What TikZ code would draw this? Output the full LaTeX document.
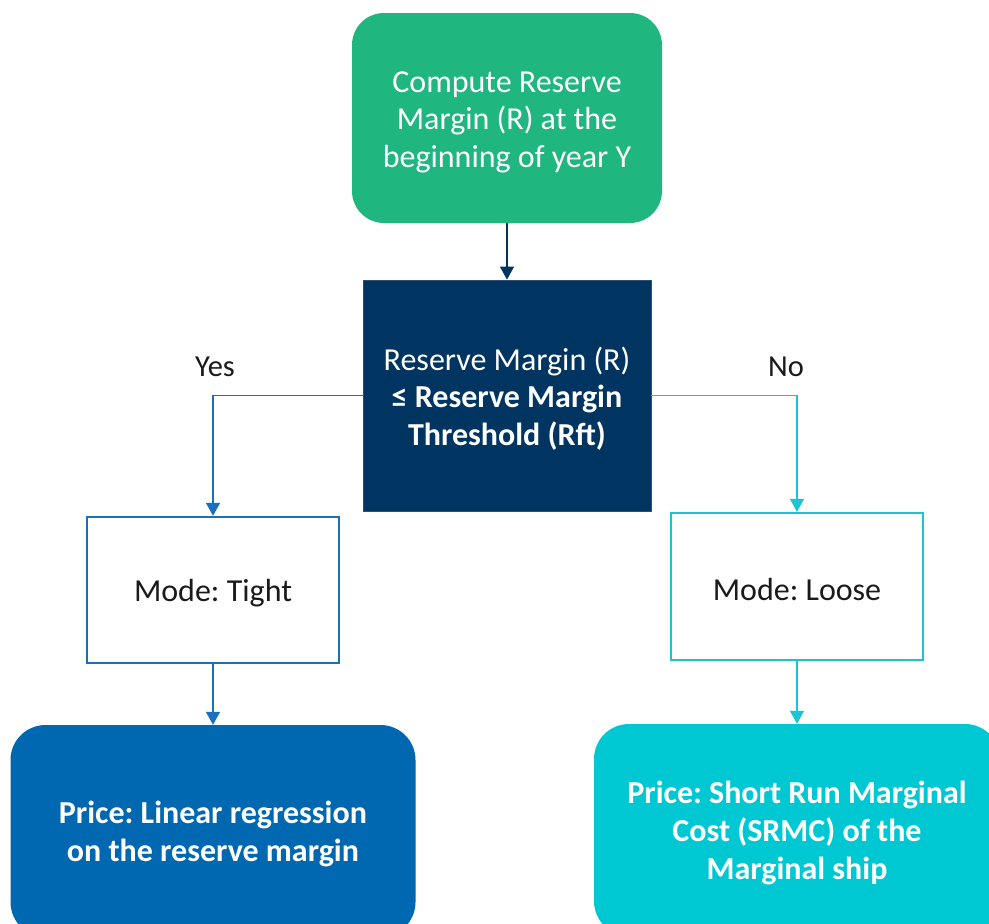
\documentclass[tikz,border=0pt]{standalone}
\usepackage{fontspec}
\setmainfont{Carlito}
\usetikzlibrary{arrows.meta}
\definecolor{cgreen}{HTML}{20B67F}
\definecolor{cnavy}{HTML}{003562}
\definecolor{cnavyedge}{HTML}{2E4F73}
\definecolor{cblue}{HTML}{0068B0}
\definecolor{cline}{HTML}{1A70BC}
\definecolor{ccyan}{HTML}{00C8D3}
\definecolor{ccyanline}{HTML}{1CC3D0}
\definecolor{ctext}{HTML}{1A1A1A}
\frenchspacing
\begin{document}
\begin{tikzpicture}[x=1pt,y=-1pt,
  txt/.style={font=\fontsize{32}{37.5}\selectfont, align=center, inner sep=0pt},
  btxt/.style={txt, text=white, font=\fontsize{32}{38.3}\selectfont\bfseries},
  roundbox/.style={rectangle, rounded corners=32pt, inner sep=0pt},
  modebox/.style={rectangle, draw, line width=2.4pt, fill=white, minimum width=252pt, inner sep=0pt},
  arr/.style={line width=1.3pt, -{Triangle[width=14pt,length=13pt]}},
  lbl/.style={font=\fontsize{30.5}{36}\selectfont, text=ctext, inner sep=0pt}
]
\useasboundingbox (0,0) rectangle (989,924);
\clip (0,0) rectangle (989,924);
\fill[white] (0,0) rectangle (989,924);

% boxes
\node[roundbox, fill=cgreen, minimum width=310pt, minimum height=210pt] (compute) at (507,118) {};
\node[rectangle, fill=cnavy, draw=cnavyedge, line width=0.8pt, inner sep=0pt,
  minimum width=288pt, minimum height=231pt] (dec) at (507,395.5) {};
\node[modebox, draw=cline, minimum height=146pt] (tight) at (213,590) {};
\node[modebox, draw=ccyanline, minimum height=147pt] (loose) at (797,586.5) {};
\node[roundbox, fill=cblue, rounded corners=35pt, minimum width=405pt, minimum height=212pt] (lin) at (213,831) {};
\node[roundbox, fill=ccyan, rounded corners=35pt, minimum width=406pt, minimum height=212pt] (srmc) at (797,830) {};

% texts
\node[txt, text=white] (compute-t) at ([yshift=-4pt]compute.center)
  {Compute Reserve\\Margin (R) at the\\beginning of year Y};
\node[txt, text=white] (dec-t) at ([yshift=-3pt]dec.center)
  {Reserve Margin (R)\\\textbf{≤ Reserve Margin}\\\textbf{Threshold (Rft)}};
\node[txt, text=ctext] (tight-t) at ([yshift=-3pt]tight.center) {Mode: Tight};
\node[txt, text=ctext] (loose-t) at ([yshift=-3pt]loose.center) {Mode: Loose};
\node[btxt] (lin-t) at ([yshift=-3pt]lin.center) {Price: Linear regression\\on the reserve margin};
\node[btxt] (srmc-t) at ([yshift=-3pt]srmc.center) {Price: Short Run Marginal\\Cost (SRMC) of the\\Marginal ship};

% connectors
\draw[arr, draw=cnavy] (compute) -- (dec);
\draw[arr, draw=cline] (dec.west) -| (tight.north);
\draw[arr, draw=ccyanline] (dec.east) -| (loose.north);
\draw[arr, draw=cline] (tight) -- (lin);
\draw[arr, draw=ccyanline] (loose) -- (srmc);

\node[lbl] (yes) at (215,367) {Yes};
\node[lbl] (no) at (786,367) {No};
\end{tikzpicture}
\end{document}
